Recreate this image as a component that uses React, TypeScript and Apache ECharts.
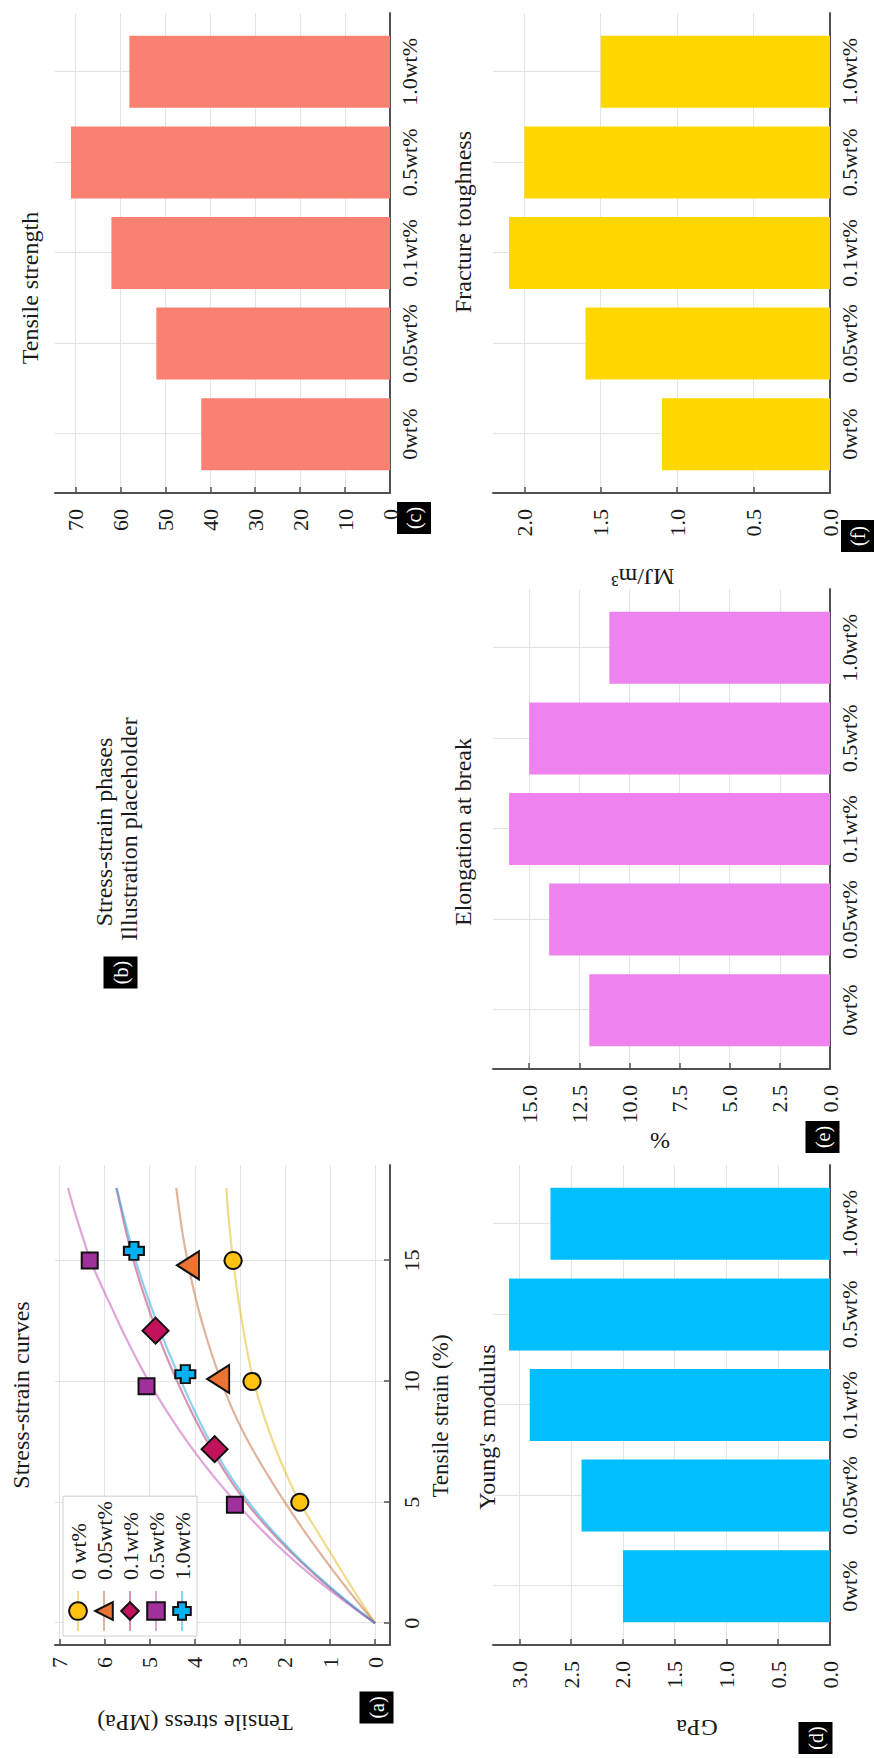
import React, { useEffect, useRef } from "react";
import * as echarts from "echarts";

const FIG_W = 1758;
const FIG_H = 874;
const SERIF = "'Liberation Serif', 'Times New Roman', serif";
const AXIS_COLOR = "#505050";
const GRID_COLOR = "#e3e3e3";
const TEXT_COLOR = "#1a1a1a";

// ---------- Data ----------
const categories = ["0wt%", "0.05wt%", "0.1wt%", "0.5wt%", "1.0wt%"];
const categoryPositions = [1, 2, 3, 4, 5];
const tensileStrength = [42, 52, 62, 71, 58];
const youngsModulus = [2.0, 2.4, 2.9, 3.1, 2.7];
const elongationAtBreak = [12, 14, 16, 15, 11];
const fractureToughness = [1.1, 1.6, 2.1, 2.0, 1.5];

const curveNames = ["0 wt%", "0.05wt%", "0.1wt%", "0.5wt%", "1.0wt%"];
const strainSamples = [0, 1, 2, 3, 4, 5, 6, 7, 8, 9, 10, 11, 12, 13, 14, 15, 16, 17, 18];
const stress0wt = [0, 0.35, 0.69, 1.02, 1.35, 1.67, 1.93, 2.16, 2.36, 2.54, 2.69, 2.81, 2.91, 3.0, 3.08, 3.15, 3.21, 3.26, 3.3];
const stress005wt = [0, 0.44, 0.86, 1.26, 1.64, 2.0, 2.34, 2.66, 2.95, 3.2, 3.41, 3.6, 3.77, 3.92, 4.05, 4.16, 4.26, 4.34, 4.41];
const stress01wt = [0, 0.7, 1.33, 1.9, 2.41, 2.86, 3.24, 3.57, 3.87, 4.14, 4.39, 4.62, 4.83, 5.02, 5.2, 5.36, 5.5, 5.62, 5.74];
const stress05wt = [0, 0.74, 1.43, 2.04, 2.59, 3.09, 3.55, 3.97, 4.35, 4.7, 5.02, 5.31, 5.58, 5.83, 6.08, 6.31, 6.49, 6.66, 6.81];
const stress10wt = [0, 0.68, 1.3, 1.86, 2.36, 2.8, 3.18, 3.51, 3.8, 4.06, 4.3, 4.53, 4.75, 4.95, 5.14, 5.31, 5.46, 5.6, 5.73];

const marks0wt = [[5, 1.67], [10, 2.73], [15, 3.15]];
const marks005wt = [[10.1, 3.48], [14.8, 4.15]];
const marks01wt = [[7.2, 3.56], [12.1, 4.87]];
const marks05wt = [[4.9, 3.11], [9.8, 5.07], [15, 6.33]];
const marks10wt = [[10.3, 4.21], [15.4, 5.35]];

const strainTicks = [0, 5, 10, 15];
const stressTicks = [0, 1, 2, 3, 4, 5, 6, 7];
const strengthTicks = [0, 10, 20, 30, 40, 50, 60, 70];
const modulusTicks = [0, 0.5, 1, 1.5, 2, 2.5, 3];
const elongationTicks = [0, 2.5, 5, 7.5, 10, 12.5, 15];
const toughnessTicks = [0, 0.5, 1, 1.5, 2];

// ---------- Styles ----------
const curveLineColors = ["#e2b81c", "#c0683a", "#b32a66", "#c24cb4", "#1aa6dc"];
const markerColors = ["#ffc20e", "#ec7433", "#c2125c", "#a0309c", "#00b0f0"];
const markerSymbols = [
  "circle",
  "triangle",
  "diamond",
  "rect",
  "path://M3,0H8V3H11V8H8V11H3V8H0V3H3Z",
];
const markerSizes: any[] = [17, [28, 22], [26, 26], 16, [18, 20]];

const axisLine = { show: true, onZero: false, lineStyle: { color: AXIS_COLOR, width: 2 } };
const tickOf = (values: number[]) => ({
  show: true,
  inside: true,
  length: 6,
  customValues: values,
  lineStyle: { color: AXIS_COLOR, width: 1.5 },
});
const splitLine = { show: true, lineStyle: { color: GRID_COLOR, width: 1 } };
const labelOf = (values: number[], formatter: (v: number) => string, margin: number) => ({
  customValues: values,
  formatter,
  margin,
  fontFamily: SERIF,
  fontSize: 22,
  color: TEXT_COLOR,
});

const catFormatter = (v: number) => {
  const idx = categoryPositions.indexOf(Math.round(v));
  return idx >= 0 ? categories[idx] : "";
};

const categoryAxis = (gridIndex: number) => ({
  type: "value",
  gridIndex,
  min: 0.35,
  max: 5.65,
  axisLine,
  axisTick: tickOf(categoryPositions),
  axisLabel: labelOf(categoryPositions, catFormatter, 8),
  splitLine,
});

const valueAxis = (gridIndex: number, max: number, ticks: number[], fmt: (v: number) => string) => ({
  type: "value",
  gridIndex,
  min: 0,
  max,
  axisLine,
  axisTick: tickOf(ticks),
  axisLabel: labelOf(ticks, fmt, 16),
  splitLine,
});

const fmtInt = (v: number) => String(Math.round(v));
const fmt1 = (v: number) => v.toFixed(1);

const titleText = (text: string, x: number, y: number, size = 24) => ({
  type: "text",
  x,
  y,
  silent: true,
  style: {
    text,
    fill: TEXT_COLOR,
    fontFamily: SERIF,
    fontSize: size,
    align: "center",
    verticalAlign: "middle",
  },
});

const verticalText = (text: string, x: number, y: number, size = 24) => ({
  type: "text",
  x,
  y,
  rotation: Math.PI / 2,
  silent: true,
  style: {
    text,
    fill: TEXT_COLOR,
    fontFamily: SERIF,
    fontSize: size,
    align: "center",
    verticalAlign: "middle",
  },
});

const panelTag = (label: string, cx: number, cy: number) => ({
  type: "group",
  x: cx - 16,
  y: cy - 17,
  silent: true,
  children: [
    { type: "rect", shape: { x: 0, y: 0, width: 32, height: 34 }, style: { fill: "#000" } },
    {
      type: "text",
      x: 16,
      y: 17,
      style: {
        text: label,
        fill: "#fff",
        fontFamily: SERIF,
        fontSize: 20,
        align: "center",
        verticalAlign: "middle",
      },
    },
  ],
});

function buildOption() {
  const curves = [stress0wt, stress005wt, stress01wt, stress05wt, stress10wt];
  const marks = [marks0wt, marks005wt, marks01wt, marks05wt, marks10wt];

  const lineSeries = curveNames.map((name, i) => ({
    name,
    type: "line",
    xAxisIndex: 0,
    yAxisIndex: 0,
    smooth: true,
    showSymbol: false,
    symbol: markerSymbols[i],
    symbolSize: markerSizes[i],
    data: strainSamples.map((s, k) => [s, curves[i][k]]),
    lineStyle: { color: curveLineColors[i], width: 2.2, opacity: 0.5 },
    itemStyle: { color: markerColors[i], borderColor: "#111", borderWidth: 2 },
    z: 2,
    silent: true,
  }));

  const markerSeries = curveNames.map((name, i) => ({
    name: name + " markers",
    type: "scatter",
    xAxisIndex: 0,
    yAxisIndex: 0,
    symbol: markerSymbols[i],
    symbolSize: markerSizes[i],
    data: marks[i],
    itemStyle: { color: markerColors[i], borderColor: "#111", borderWidth: 2, opacity: 1 },
    z: 4,
    silent: true,
  }));

  const barSeries = (idx: number, values: number[], color: string) => ({
    type: "bar",
    xAxisIndex: idx,
    yAxisIndex: idx,
    barWidth: 72,
    data: categoryPositions.map((p, i) => [p, values[i]]),
    itemStyle: { color },
    z: 2,
    silent: true,
  });

  return {
    animation: false,
    backgroundColor: "#ffffff",
    textStyle: { fontFamily: SERIF },
    grid: [
      { left: 113, top: 55, width: 480, height: 335 },
      { left: 1265, top: 55, width: 480, height: 335 },
      { left: 113, top: 493, width: 480, height: 337 },
      { left: 689, top: 493, width: 480, height: 337 },
      { left: 1265, top: 493, width: 480, height: 337 },
    ],
    xAxis: [
      {
        type: "value",
        gridIndex: 0,
        min: -0.9,
        max: 18.95,
        axisLine,
        axisTick: tickOf(strainTicks),
        axisLabel: labelOf(strainTicks, fmtInt, 10),
        splitLine,
      },
      categoryAxis(1),
      categoryAxis(2),
      categoryAxis(3),
      categoryAxis(4),
    ],
    yAxis: [
      {
        type: "value",
        gridIndex: 0,
        min: -0.33,
        max: 7.1,
        axisLine,
        axisTick: tickOf(stressTicks),
        axisLabel: labelOf(stressTicks, fmtInt, 12),
        splitLine,
      },
      valueAxis(1, 74.55, strengthTicks, fmtInt),
      valueAxis(2, 3.255, modulusTicks, fmt1),
      valueAxis(3, 16.8, elongationTicks, fmt1),
      valueAxis(4, 2.205, toughnessTicks, fmt1),
    ],
    legend: {
      data: curveNames,
      orient: "vertical",
      left: 122,
      top: 63,
      padding: [4, 5, 4, 4],
      itemGap: 4,
      itemWidth: 40,
      itemHeight: 22,
      backgroundColor: "#ffffff",
      borderColor: "#cfcfcf",
      borderWidth: 1,
      selectedMode: false,
      textStyle: {
        fontFamily: SERIF,
        fontSize: 22,
        color: TEXT_COLOR,
        lineHeight: 22,
        padding: [0, 0, 0, 6],
      },
    },
    series: [
      ...lineSeries,
      ...markerSeries,
      barSeries(1, tensileStrength, "#fa8072"),
      barSeries(2, youngsModulus, "#00bfff"),
      barSeries(3, elongationAtBreak, "#ee82ee"),
      barSeries(4, fractureToughness, "#ffd700"),
    ],
    graphic: [
      titleText("Stress-strain curves", 363, 21),
      titleText("Tensile strength", 1470, 30),
      titleText("Young's modulus", 331, 487),
      titleText("Elongation at break", 926, 463),
      titleText("Fracture toughness", 1536, 463),
      titleText("Stress-strain phases", 926, 104),
      titleText("Illustration placeholder", 929, 129),
      titleText("Tensile strain (%)", 342, 440, 23),
      verticalText("Tensile stress (MPa)", 35, 195),
      verticalText("GPa", 30, 697),
      verticalText("%", 617, 660),
      verticalText("MJ/m³", 1181, 643),
      panelTag("(a)", 50.5, 376.5),
      panelTag("(b)", 785.5, 120.5),
      panelTag("(c)", 1240, 414),
      panelTag("(d)", 20, 815.5),
      panelTag("(e)", 621, 822.5),
      panelTag("(f)", 1222, 858),
    ],
  };
}

export default function App() {
  const ref = useRef<HTMLDivElement>(null);

  useEffect(() => {
    if (!ref.current) return;
    const chart = echarts.init(ref.current, null, {
      renderer: "svg",
      width: FIG_W,
      height: FIG_H,
    });
    chart.setOption(buildOption() as any);
    return () => {
      chart.dispose();
    };
  }, []);

  return (
    <div
      style={{
        position: "fixed",
        left: 0,
        top: 0,
        width: FIG_H,
        height: FIG_W,
        overflow: "hidden",
        background: "#ffffff",
      }}
    >
      <div
        ref={ref}
        style={{
          position: "absolute",
          left: 0,
          top: 0,
          width: FIG_W,
          height: FIG_H,
          transformOrigin: "0 0",
          transform: `translate(0px, ${FIG_W}px) rotate(-90deg)`,
        }}
      />
    </div>
  );
}
